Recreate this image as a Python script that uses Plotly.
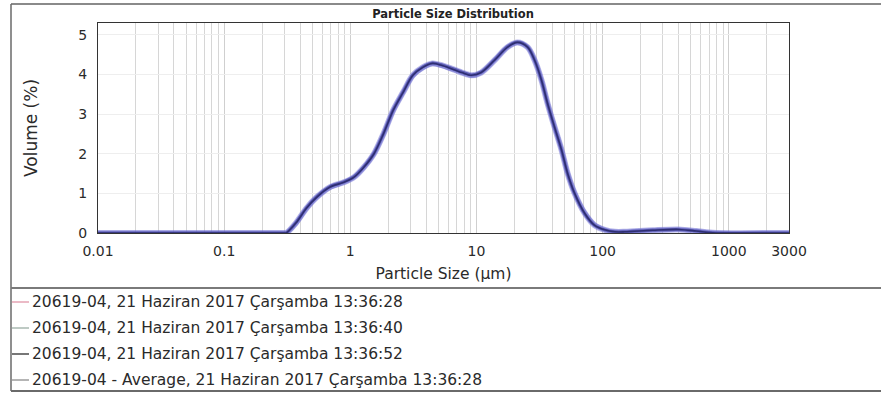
import plotly.graph_objects as go

# Particle size classes (µm) and volume fractions (%) for each measurement
size_um = [0.01, 0.1, 0.3, 0.31, 0.37, 0.45, 0.54, 0.69, 0.89, 1.07, 1.28, 1.54,
           1.83, 2.19, 2.62, 3.13, 3.75, 4.48, 5.35, 5.96, 7.65, 9.15, 10.9,
           13.9, 17.6, 21.1, 25.4, 28.9, 32.8, 36.6, 41.6, 47.3, 52.7, 60.0,
           72.0, 86.0, 104, 125, 150, 250, 400, 550, 700, 800, 3000]

run_1 = [0, 0, 0, 0.0, 0.25, 0.63, 0.90, 1.16, 1.28, 1.41, 1.66, 2.00,
         2.50, 3.10, 3.55, 3.98, 4.18, 4.28, 4.23, 4.18, 4.05, 3.98, 4.05,
         4.36, 4.69, 4.81, 4.69, 4.36, 3.85, 3.27, 2.67, 2.09, 1.51, 1.00,
         0.50, 0.20, 0.08, 0.03, 0.03, 0.07, 0.09, 0.05, 0.01, 0, 0]
run_2 = [0, 0, 0, 0.0, 0.24, 0.62, 0.90, 1.15, 1.28, 1.41, 1.65, 2.00,
         2.49, 3.09, 3.55, 3.97, 4.17, 4.27, 4.22, 4.17, 4.05, 3.97, 4.05,
         4.36, 4.69, 4.80, 4.69, 4.37, 3.86, 3.28, 2.68, 2.10, 1.52, 1.01,
         0.51, 0.21, 0.08, 0.03, 0.03, 0.07, 0.09, 0.05, 0.01, 0, 0]
run_3 = [0, 0, 0, 0.0, 0.26, 0.64, 0.91, 1.17, 1.29, 1.42, 1.67, 2.01,
         2.51, 3.11, 3.56, 3.99, 4.19, 4.29, 4.24, 4.19, 4.06, 3.99, 4.06,
         4.37, 4.70, 4.82, 4.70, 4.36, 3.85, 3.26, 2.66, 2.08, 1.50, 0.99,
         0.49, 0.20, 0.08, 0.03, 0.03, 0.07, 0.09, 0.05, 0.01, 0, 0]
average = [0, 0, 0, 0.0, 0.25, 0.63, 0.90, 1.16, 1.28, 1.41, 1.66, 2.00,
           2.50, 3.10, 3.55, 3.98, 4.18, 4.28, 4.23, 4.18, 4.05, 3.98, 4.05,
           4.36, 4.69, 4.81, 4.69, 4.36, 3.85, 3.27, 2.67, 2.09, 1.51, 1.00,
           0.50, 0.20, 0.08, 0.03, 0.03, 0.07, 0.09, 0.05, 0.01, 0, 0]

series_names = [
    "20619-04, 21 Haziran 2017 Çarşamba 13:36:28",
    "20619-04, 21 Haziran 2017 Çarşamba 13:36:40",
    "20619-04, 21 Haziran 2017 Çarşamba 13:36:52",
    "20619-04 - Average, 21 Haziran 2017 Çarşamba 13:36:28",
]
series_values = [run_1, run_2, run_3, average]
legend_colors = ["#e4a3b3", "#a9b8b1", "#4a4a4a", "#9c9c9c"]
curve_colors = ["rgba(120,120,215,0.55)", "rgba(110,110,205,0.6)",
                "rgba(80,80,170,0.8)", "#2e2e72"]
curve_widths = [6, 4.5, 3, 1.6]

x_tickvals = [0.01, 0.1, 1, 10, 100, 1000, 3000]
x_ticktext = ["0.01", "0.1", "1", "10", "100", "1000", "3000"]
y_tickvals = [0, 1, 2, 3, 4, 5]

FONT = "DejaVu Sans"
W, H = 881, 394
M_L, M_R, M_T, M_B = 98, 92, 23, 161
PW, PH = W - M_L - M_R, H - M_T - M_B


def px(xp):
    """Figure pixel column -> paper x."""
    return (xp - M_L) / PW


def py(yp):
    """Figure pixel row -> paper y."""
    return (H - M_B - yp) / PH


fig = go.Figure()
for name, vals, col, wid in zip(series_names, series_values, curve_colors, curve_widths):
    fig.add_trace(go.Scatter(
        x=size_um, y=vals, name=name, mode="lines",
        line=dict(color=col, width=wid, shape="spline", smoothing=0.9),
        showlegend=False,
    ))

fig.update_layout(
    width=W, height=H,
    margin=dict(l=M_L, r=M_R, t=M_T, b=M_B),
    paper_bgcolor="white", plot_bgcolor="white",
    font=dict(family=FONT, color="#2a2a2a"),
    title=dict(text="<b>Particle Size Distribution</b>",
               font=dict(family=FONT, size=11.5, color="#222"),
               x=453 / W, xanchor="center", y=1 - 14 / H, yanchor="middle"),
    xaxis=dict(
        type="log", range=[-2, 3.4772],
        tickvals=x_tickvals, ticktext=x_ticktext,
        tickfont=dict(size=14, color="#2a2a2a"),
        showgrid=True, gridcolor="#cfcfcf", gridwidth=1,
        minor=dict(dtick="D1", showgrid=True, gridcolor="#d6d6d6", gridwidth=1),
        showline=True, linecolor="#333", linewidth=1, mirror=True,
        zeroline=False, ticks="", ticklabelstandoff=5,
        title=dict(text="Particle Size (µm)", font=dict(size=15.5, color="#2a2a2a"),
                   standoff=10),
    ),
    yaxis=dict(
        range=[0, 5.3], tickvals=y_tickvals,
        tickfont=dict(size=14, color="#2a2a2a"),
        showgrid=True, gridcolor="#eeeeee", gridwidth=1,
        showline=True, linecolor="#333", linewidth=1, mirror=True,
        zeroline=False, ticks="", ticklabelstandoff=7,
        title=dict(text="Volume (%)", font=dict(size=17, color="#2a2a2a"),
                   standoff=36),
    ),
)

# Outer frame and legend box
shapes = [
    dict(type="line", xref="paper", yref="paper",
         x0=px(11), x1=px(W), y0=py(4), y1=py(4),
         line=dict(color="#8a8a8a", width=2)),
    dict(type="line", xref="paper", yref="paper",
         x0=px(11), x1=px(11), y0=py(4), y1=py(391),
         line=dict(color="#6a6a6a", width=1.5)),
    dict(type="line", xref="paper", yref="paper",
         x0=px(11), x1=px(W), y0=py(288), y1=py(288),
         line=dict(color="#7a7a7a", width=2)),
    dict(type="line", xref="paper", yref="paper",
         x0=px(11), x1=px(W), y0=py(391), y1=py(391),
         line=dict(color="#6a6a6a", width=2)),
]

annotations = []
row_y = [302, 328, 354, 380]
for name, col, yy in zip(series_names, legend_colors, row_y):
    shapes.append(dict(type="line", xref="paper", yref="paper",
                       x0=px(12), x1=px(29), y0=py(yy), y1=py(yy),
                       line=dict(color=col, width=1.5)))
    annotations.append(dict(text=name, xref="paper", yref="paper",
                            x=px(30), y=py(yy), xanchor="left", yanchor="middle",
                            showarrow=False,
                            font=dict(family=FONT, size=15.5, color="#2a2a2a")))

fig.update_layout(shapes=shapes, annotations=annotations)

fig.write_html("out.html")
